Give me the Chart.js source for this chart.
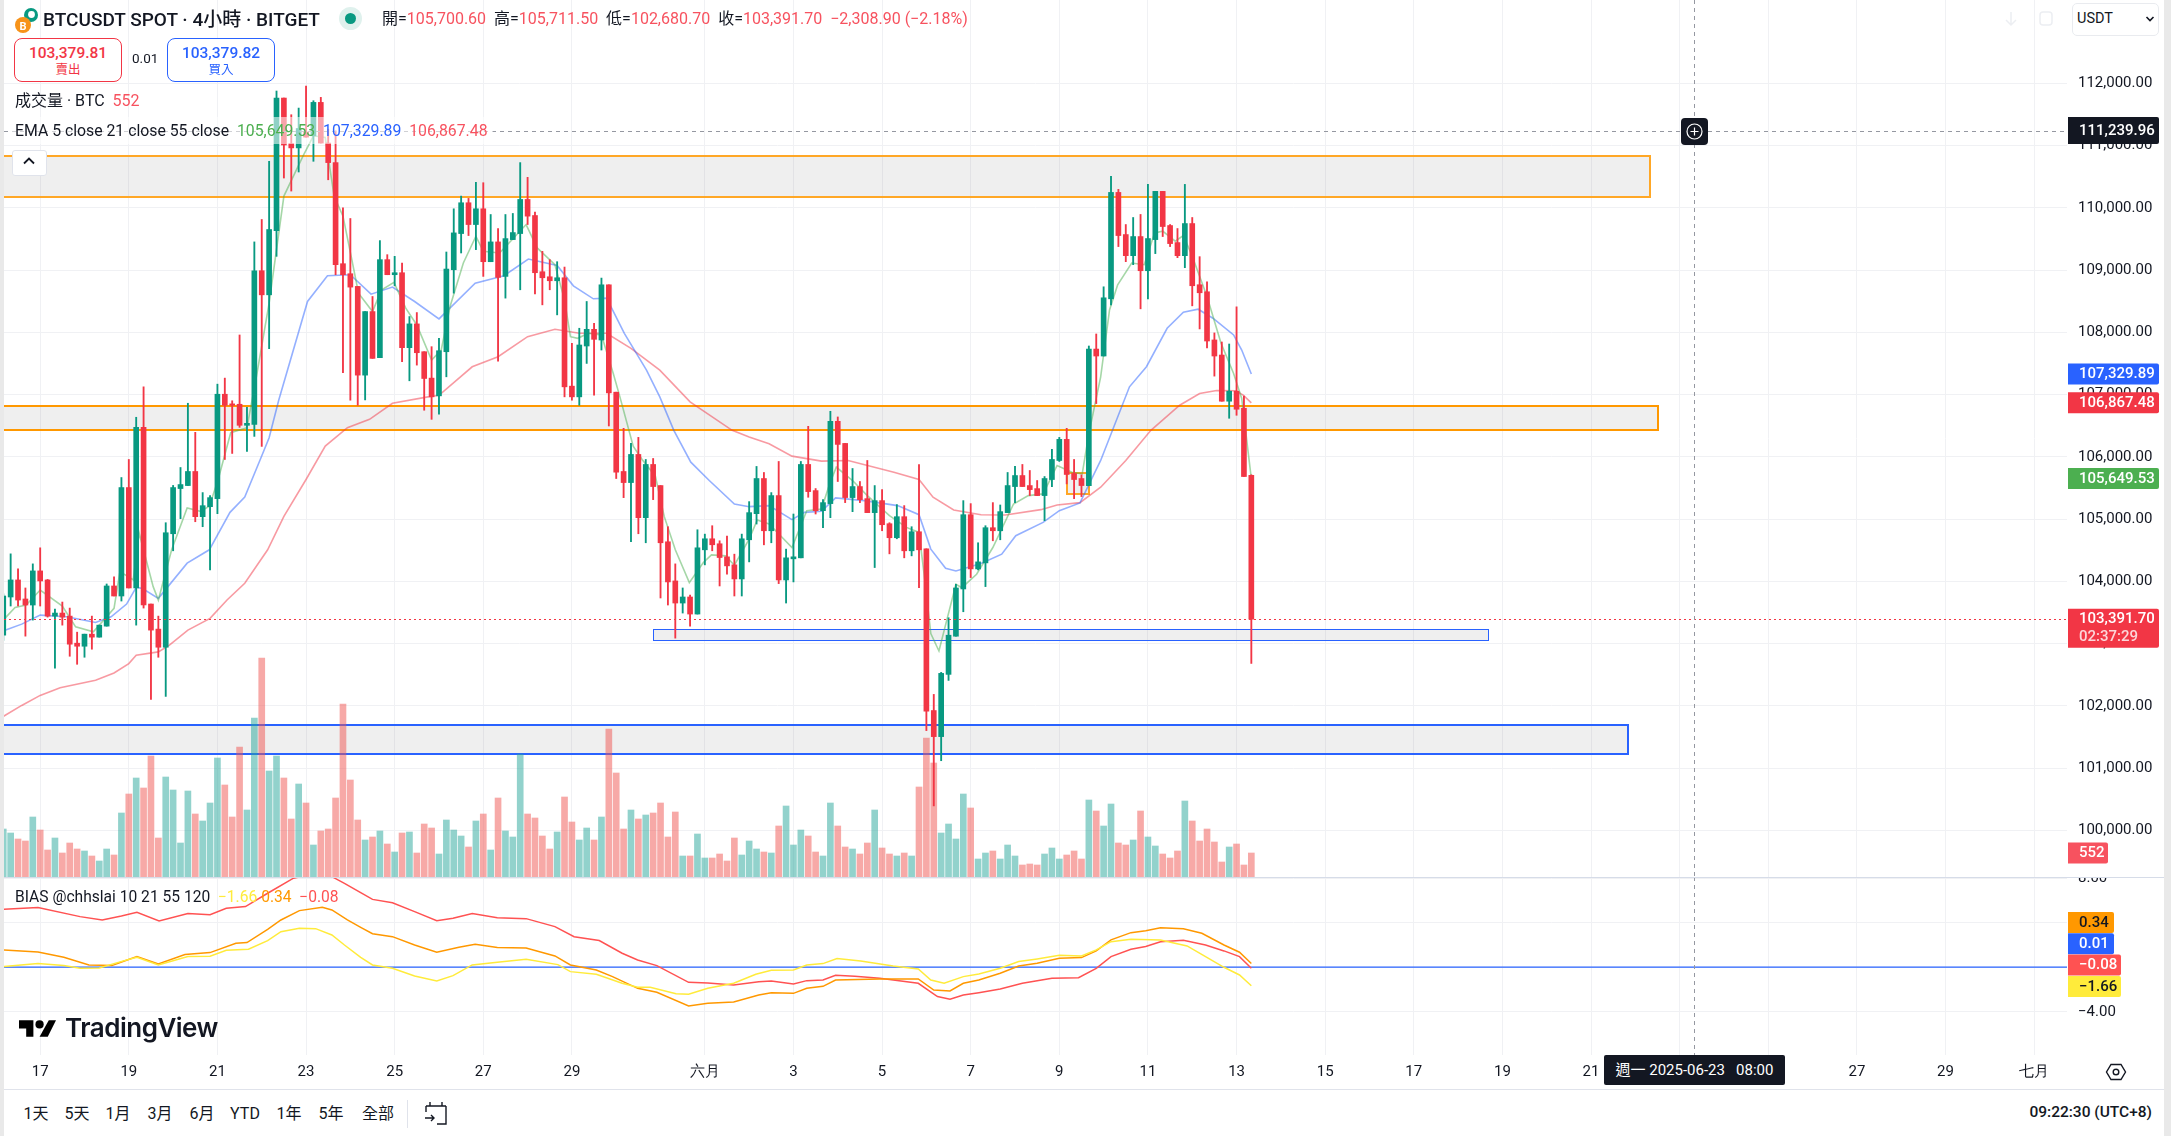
<!DOCTYPE html>
<html>
<head>
<meta charset="utf-8">
<script src="https://cdn.jsdelivr.net/npm/chart.js@4"></script>
<style>
html,body{margin:0;padding:0;background:#e9e9e9;}
body{width:2171px;height:1136px;position:relative;overflow:hidden;font-family:Roboto,"Noto Sans CJK TC",sans-serif;color:#131722;}
#page{position:absolute;left:4px;top:0;width:2160px;height:1136px;background:#fff;}
canvas{position:absolute;left:4px;}
.t{position:absolute;white-space:nowrap;line-height:1;}
.r{color:#f7525f;}
.box{position:absolute;top:38px;width:106px;height:42px;background:#fff;border-radius:8px;text-align:center;}
.box b{display:block;font-weight:500;font-size:15.5px;margin-top:5px;line-height:18px;}
.box span{display:block;font-size:12.5px;line-height:15px;}
.rg{position:absolute;top:1105px;font-size:16px;line-height:18px;transform:translateX(-50%);white-space:nowrap;}
</style>
</head>
<body>
<div id="page"></div>
<canvas id="priceChart" width="2160" height="877" style="top:0;width:2160px;height:877px"></canvas>
<canvas id="biasChart" width="2160" height="212" style="top:877px;width:2160px;height:212px"></canvas>

<!-- header -->
<svg class="t" style="left:14px;top:5px" width="28" height="30" viewBox="0 0 28 30">
  <circle cx="17" cy="10" r="7" fill="#089981"/><circle cx="17.5" cy="9.5" r="3.4" fill="#fff"/>
  <circle cx="9" cy="20" r="8" fill="#f7931a"/>
  <text x="9" y="24.5" font-size="11" font-weight="700" fill="#fff" text-anchor="middle" font-family="Roboto">B</text>
</svg>
<div class="t" style="left:43px;top:10px;font-size:19px;font-weight:500">BTCUSDT SPOT · 4小時 · BITGET</div>
<div class="t" style="left:339px;top:7px;width:23px;height:23px;border-radius:50%;background:#dff1ed"></div>
<div class="t" style="left:345px;top:13px;width:11px;height:11px;border-radius:50%;background:#089981"></div>
<div class="t" style="left:382px;top:11px;font-size:16px">開=<span class="r">105,700.60</span>&nbsp; 高=<span class="r">105,711.50</span>&nbsp; 低=<span class="r">102,680.70</span>&nbsp; 收=<span class="r">103,391.70</span>&nbsp; <span class="r">−2,308.90 (−2.18%)</span></div>

<div class="box" style="left:14px;border:1px solid #f23645;color:#f23645"><b>103,379.81</b><span>賣出</span></div>
<div class="t" style="left:132px;top:52px;font-size:13.5px">0.01</div>
<div class="box" style="left:167px;border:1px solid #2962ff;color:#2962ff"><b>103,379.82</b><span>買入</span></div>

<div class="t" style="left:15px;top:93px;font-size:16px">成交量 · BTC &nbsp;<span class="r">552</span></div>
<div class="t" style="left:10px;top:117px;height:27px;padding:0 5px;line-height:27px;font-size:15.8px;background:rgba(255,255,255,.55)">EMA 5 close 21 close 55 close &nbsp;<span style="color:#4caf50">105,649.53</span>&nbsp; <span style="color:#2962ff">107,329.89</span>&nbsp; <span style="color:#f7525f">106,867.48</span></div>
<div class="t" style="left:12px;top:150px;width:33px;height:24px;background:#fff;border:1px solid #e0e3eb;border-radius:3px"></div>
<svg class="t" style="left:22px;top:156px" width="14" height="10" viewBox="0 0 14 10"><path d="M2 7.5L7 2.5L12 7.5" fill="none" stroke="#131722" stroke-width="1.8"/></svg>

<!-- top right -->
<svg class="t" style="left:2003px;top:8px" width="60" height="22" viewBox="0 0 60 22" fill="none" stroke="#eceef2" stroke-width="1.5">
  <path d="M8 4v13M3 12l5 5 5-5"/><rect x="37" y="4" width="12" height="13" rx="3"/>
</svg>
<div class="t" style="left:2072px;top:3px;width:85px;height:31px;border:1px solid #e9ebef;border-radius:5px;background:#fff"></div>
<div class="t" style="left:2077px;top:12px;font-size:14.5px">USDT</div>
<svg class="t" style="left:2145px;top:15px" width="10" height="8" viewBox="0 0 10 8"><path d="M1.5 2L5 5.5L8.5 2" fill="none" stroke="#131722" stroke-width="1.6"/></svg>

<!-- crosshair marks -->
<div class="t" style="left:1681px;top:118px;width:27px;height:27px;border-radius:4px;background:#131722"></div>
<svg class="t" style="left:1686px;top:123px" width="17" height="17" viewBox="0 0 17 17" fill="none" stroke="#fff" stroke-width="1.2"><circle cx="8.5" cy="8.5" r="7.5"/><path d="M8.5 4.5v8M4.5 8.5h8"/></svg>
<div class="t" style="left:1604px;top:1055px;width:181px;height:30px;border-radius:2px;background:#131722;color:#fff;font-size:15px;line-height:30px;text-align:center">週一 2025-06-23 &nbsp; 08:00</div>

<!-- bias legend, logo -->
<div class="t" style="left:15px;top:890px;font-size:15.6px">BIAS @chhslai 10 21 55 120 &nbsp;<span style="color:#ffeb3b">−1.66</span>&nbsp;<span style="color:#ff9800">0.34</span> &nbsp;<span style="color:#ff5252">−0.08</span></div>
<svg class="t" style="left:19px;top:1019px" width="37" height="19" viewBox="0 6 36 16"><path d="M14 6H0v8h7v8h7V6Z"/><circle cx="20" cy="10" r="4"/><path d="M29 6h7l-8 16h-8l9-16Z"/></svg>
<div class="t" style="left:65px;top:1015px;font-size:26px;font-weight:600;font-family:Inter,Roboto,sans-serif;letter-spacing:-.5px">TradingView</div>

<!-- settings icon -->
<svg class="t" style="left:2105px;top:1063px" width="22" height="18" viewBox="0 0 22 18" fill="none" stroke="#131722" stroke-width="1.4"><path d="M6 1.5h10l4.5 7.5-4.5 7.5H6L1.5 9Z"/><circle cx="11" cy="9" r="2.8"/></svg>

<!-- range bar -->
<div class="t" style="left:4px;top:1089px;width:2160px;height:1px;background:#e0e3eb"></div>
<div class="rg" style="left:36px">1天</div><div class="rg" style="left:77px">5天</div><div class="rg" style="left:118px">1月</div>
<div class="rg" style="left:160px">3月</div><div class="rg" style="left:202px">6月</div><div class="rg" style="left:245px">YTD</div>
<div class="rg" style="left:289px">1年</div><div class="rg" style="left:331px">5年</div><div class="rg" style="left:378px">全部</div>
<div class="t" style="left:407px;top:1100px;width:1px;height:28px;background:#e0e3eb"></div>
<svg class="t" style="left:424px;top:1101px" width="24" height="25" viewBox="0 0 24 25" fill="none" stroke="#131722" stroke-width="1.4"><path d="M2 5h20M6 1v4M18 1v4M22 5v18h-9M2 5v6M1 17h9M7 14l3 3-3 3"/></svg>
<div class="t" style="right:19px;top:1105px;font-size:15.5px;font-weight:500">09:22:30 (UTC+8)</div>

<script>
// bars counted from 17 May 00:00, 4h each, first bar is -5
var firstBar = -5;
var opens = [103135,103748,104022,103716,103619,104167,104022,103441,103490,103441,103006,102957,103151,103103,103280,103925,103764,105506,103893,106473,103635,103232,102941,104764,105490,105538,105764,105038,105199,105328,107005,106850,106844,106506,106521,108989,108602,109634,111763,111032,110962,111218,111156,111693,111040,110726,109102,108941,108737,107312,108333,107592,109167,108925,108957,107753,108135,107688,107264,106979,107688,109005,109586,110081,109731,109984,109134,109452,108898,109489,109586,110134,109876,108973,108892,108828,108876,107135,106963,107780,108048,107876,108763,107038,105764,105586,106038,105022,105877,105538,104635,104006,103651,103748,103474,104506,104683,104603,104393,104264,104038,104667,105086,105651,104812,105377,104022,104361,104377,105877,105457,105135,105248,106570,106215,105345,105522,105328,105103,105296,104925,104700,105038,104490,104796,104522,101924,101505,102505,103118,103877,105070,104199,104296,104861,104812,105103,105522,105699,105538,105489,105377,105635,105941,106280,105732,105651,105538,107731,107619,108538,110247,109570,109231,109538,108989,109489,110264,109715,109441,109231,109747,108764,108651,107877,107635,106893,107054,106780,105700.6];
var highs = [103800,104441,104199,103893,104280,104538,104030,103554,103667,103570,103183,103151,103441,103296,103957,104070,105667,105957,106635,107124,103635,103441,104941,105540,105828,106860,106393,105425,105377,107167,107264,106900,107957,106796,109452,109812,110747,111876,111763,111495,111602,111956,111720,111774,111263,111236,110000,109828,108737,108333,108575,109473,109247,109220,109113,108253,108317,107688,107769,107903,109290,109984,110188,110151,110409,110403,109892,109667,109892,109909,110726,110489,109930,109301,109167,109134,109048,107823,108065,108495,108145,108871,108763,107038,106457,106215,106312,105957,105973,105538,104877,104280,103893,103780,104828,104758,104893,104651,104726,104436,104758,105280,105845,105748,105425,105925,104517,105081,105925,106490,105490,105312,106731,106640,106215,105812,105603,105941,105538,105473,104941,105232,105216,104877,105877,104522,102183,102537,103415,103952,105296,105248,104619,104893,105264,105226,105748,105845,105877,105780,105619,105683,106119,106312,106457,105957,105710,107780,107973,108731,110506,110296,109731,109844,109893,110376,110264,110264,109731,109667,110376,109844,109215,108812,107990,107844,107812,108409,106974,105711.5];
var lows = [103050,103603,103603,103119,103377,103603,103425,102603,103296,102796,102667,102780,102909,103103,103280,103764,103683,103893,103296,103570,102103,102780,102151,104490,105006,105538,104957,104877,104183,105086,105957,106054,106473,106086,106328,106167,107737,109220,110478,110269,110575,111135,110747,111040,110450,108925,107350,106909,106828,106914,107581,107592,108925,108747,107527,107221,107473,106748,106602,106683,107285,108629,109274,109554,109328,108898,109134,107538,108549,109489,108683,109731,108618,108441,108683,108280,106963,106909,106828,107500,106989,107715,106495,105651,105344,104635,104764,104619,105312,103732,103619,103087,103490,103280,103474,104264,104490,103925,104113,103764,103764,104312,104920,104586,104619,103963,103651,103990,104377,105350,105081,104861,105022,105603,105264,105119,105264,105103,104221,104812,104441,104683,104377,104409,103898,101602,100392,101118,102408,103118,103511,104060,104183,103915,104651,104667,105103,105264,105522,105377,105377,104974,105522,105925,105565,105328,105361,105538,106855,107619,108441,109377,109135,109086,108377,108538,109264,109538,109377,109199,109038,108425,108054,107748,107296,106893,106619,106667,105683,102680.7];
var closes = [103764,104022,103699,103619,104167,104006,103441,103490,103425,102990,102957,103151,103103,103296,103925,103764,105506,103893,106473,103619,103216,102941,104780,105506,105554,105764,105038,105215,105344,107005,106828,106828,106506,106538,108989,108602,109651,111763,111009,110962,111274,111135,111693,111040,110726,109086,108925,108726,107312,108333,107581,109167,108925,108957,107753,108135,107672,107258,106963,107704,109016,109597,110081,109731,109984,109134,109452,108882,109505,109602,110134,109866,108957,108876,108828,108876,107124,106963,107796,108048,107887,108763,107027,105753,105586,106038,105022,105877,105522,104619,103990,103651,103748,103474,104538,104683,104587,104382,104248,104038,104683,105103,105651,104812,105377,104022,104377,104393,105877,105441,105135,105264,106570,106199,105345,105522,105312,105103,105296,104909,104700,105038,104490,104796,104506,101914,101505,102521,103134,103893,105070,104199,104312,104861,104812,105119,105538,105699,105522,105473,105377,105651,105957,106280,105716,105635,105538,107731,107619,108554,110247,109554,109231,109538,108989,109506,110264,109699,109425,109231,109747,108748,108635,107860,107619,106893,107054,106764,105683,103391.7];
var volumes = [1104,1012,874,828,1380,1081,621,897,552,782,644,598,483,368,644,506,1472,1909,2277,2047,2783,897,2300,2001,782,1978,1449,1288,1702,2737,2116,1380,2990,1541,3657,5037,2438,2783,2277,1334,2139,1702,736,1058,1104,1817,3979,2231,1311,851,920,1058,759,575,1012,1035,552,1219,1127,529,1311,1081,943,690,1288,1449,621,1817,1058,920,2829,1449,1357,943,644,1035,1840,1265,851,1127,851,1380,3404,2392,1104,1541,1334,1426,1472,1702,920,1495,483,483,989,437,437,529,368,897,506,828,644,575,552,1173,1633,736,1081,943,575,483,1702,1173,690,644,529,782,1541,667,529,483,552,483,2070,3197,2622,1012,1219,874,1909,1587,414,552,598,414,736,483,276,299,276,529,667,414,506,598,414,1771,1518,1173,1679,782,736,851,1518,920,713,529,437,598,1748,1288,828,1104,805,345,690,759,276,552];

var emaFastBars = [-5,-3.4,-1.9,0,3,4.8,7.2,10,10.8,12.6,13.4,15.3,16,17.8,19.9,21.7,22.9,24.1,25.8,28,29.3,31,33,35.6,37,38.6,39.8,41,42.2,43.1,45,46.2,47.9,49.5,51,53,54.3,55.5,57.3,59,60,62.2,63.7,65.8,67.3,69.7,71,71.8,72.8,74.2,76,77.6,78.5,80.3,81.5,83.3,84.5,86,87.9,89.8,90.9,92.8,94,96,97.1,98.7,101.8,103.8,105.8,106.9,107.8,110,112,115,117.3,119,119.8,120.6,121.7,124,124.8,126.8,129,131.8,133.8,135.8,137.7,139.7,141.1,142,143.6,144.8,145.9,147.8,149.5,150.9,152,153.7,154.8,156,158,159.9,161.6,162.7,164];
var emaFastVals = [103377,103581,103619,103860,103603,103269,103189,103565,104156,104022,104775,103914,103699,104506,105178,105124,105205,105635,106387,106468,107300,108468,110188,110833,111156,111129,110188,109866,109167,108629,108333,108677,108801,108387,108118,107554,107715,108414,109113,109543,109301,109274,109462,109731,109355,109086,108522,107930,107903,107984,107957,107339,106963,106172,105957,105688,105043,104506,103979,104302,104425,104409,104259,104678,104985,104920,104543,105135,105162,105565,105834,105619,105377,105054,104866,104785,104006,103161,102881,103952,103898,104113,104543,105242,105377,105404,105860,105753,105726,106371,107285,108360,108764,109113,109086,109597,109624,109463,109554,109221,108576,107823,107339,106936,105649.53];
var emaMidBars = [-5,-2.5,0,3.6,7.5,9.6,11.7,13,13.8,16,19.9,22.9,25.7,27.7,29.8,31,32.3,36.2,38.9,42,44.8,47.7,50.7,54,58.9,62.8,66.1,70,72.2,74.9,76.7,79.1,82.1,83.9,85.8,88.1,90.6,94,96,98.7,101.8,103.5,105.8,107.7,111.6,116.1,119,120.6,122.6,124,127.4,130.2,132.1,135.8,138,140.8,143.6,147.5,149.8,152.6,154.8,156.8,158.8,161.6,162.7,164];
var emaMidVals = [103205,103312,103457,103430,103339,103430,103635,103904,103887,103726,104291,104506,105108,105355,105957,106307,106909,108495,108909,108925,108613,108726,108495,108215,108790,108909,109177,109075,108747,108538,108549,107984,107393,106963,106425,105914,105619,105242,105199,105216,104990,105108,105124,105339,105296,105216,105070,104517,104210,104167,104285,104436,104732,104947,105135,105259,105941,107124,107447,108065,108323,108371,108226,107957,107715,107329.89];
var emaSlowBars = [-5,-2.5,0,2.7,7.5,10,12,13,16,17.5,20,23,25.3,27.7,30.8,33,36,38.6,41.6,44.6,47.7,52.5,54,58.5,62,66,69.7,73,76.7,80,83.9,88,93.7,96,98.7,101.8,105.8,109.4,115.6,119,120.9,123.7,127.4,130.7,135.5,137.7,140.8,143.6,147,150.4,154.3,157,159.3,161.9,162.9,164];
var emaSlowVals = [101829,102006,102167,102290,102409,102527,102678,102812,102866,102974,103216,103404,103699,103968,104506,105043,105635,106172,106468,106602,106860,106963,106989,107446,107608,107930,108048,107984,107984,107742,107393,106882,106425,106318,106210,106011,105930,105941,105753,105635,105350,105146,105070,105065,105151,105226,105264,105511,105941,106425,106828,107016,107065,107060,106990,106867.48];

var biasYellowBars = [-5,-0.3,3.2,5.4,8,11.4,13.1,16,20,23,25.2,28.2,30.8,32.6,35.1,37.3,39.5,41.2,43.4,45,47.7,50.7,53.7,55.9,58.5,61.9,65.8,70.1,71.8,75.3,78.8,80.9,82.6,86.1,87.8,90.4,93.9,96.9,99,102,103.8,106,107.9,111.1,115.5,118.9,120.6,122.4,125,127.1,130,132.5,135,138,141,143,145,147.7,151.7,155.3,157.8,160.3,162.4,164];
var biasYellowVals = [0.06,0.33,0.15,-0.09,-0.06,0.6,0.9,0.21,0.96,0.99,1.53,1.62,2.4,3.2,3.5,3.47,2.9,2,0.9,0.21,-0.09,-0.78,-1.23,-0.75,0.21,0.45,0.72,0.24,-0.39,-0.63,-1.44,-1.8,-1.8,-2.37,-2.43,-1.89,-1.44,-0.63,-0.27,-0.24,0.21,0.33,0.78,0.57,0.12,-0.15,-1.14,-1.44,-0.84,-0.6,-0.09,0.51,0.75,1.08,1.02,1.56,2.3,2.51,2.46,1.92,0.96,0,-0.69,-1.66];
var biasOrangeBars = [-5,-0.3,3.2,6.6,9.7,11.4,13.1,16,19.6,23,26.5,28,30.8,32.6,35.1,38.2,39.5,41.6,43.4,45,47.7,50.7,53.7,56.7,58.9,61.9,65.8,69.7,71.8,75.3,77.5,80.9,83.5,87.8,90.4,93.9,97.3,99,102,103.8,106,107.7,113.7,118.9,121,123.2,125,127.1,130,132.5,135,138,141,143,145,147.7,149.7,151.7,154.8,157.3,160.3,162.4,164];
var biasOrangeVals = [1.56,1.38,0.9,0.21,0.15,0.57,0.96,0.3,1.14,1.32,2.16,2.22,3.41,4.25,5.09,5.39,5.15,4.25,3.59,3.02,2.75,2,1.35,1.8,2.07,1.77,1.74,1.02,0.21,-0.24,-0.84,-1.89,-2.25,-3.47,-3.23,-3.11,-2.49,-2.28,-2.34,-1.89,-1.71,-1.14,-1.05,-1.05,-2.04,-2.13,-1.44,-1.14,-0.54,0.12,0.36,0.81,0.87,1.47,2.46,3.11,3.29,3.56,3.47,3.05,2,1.35,0.34];
var biasRedBars = [-5,-0.3,5.4,8.4,11,13.1,16.1,20,23,25.2,27.8,30.8,34.3,37.7,39.5,41.2,43.4,45,47.7,50.7,53.7,55.9,58.5,61.9,65.8,69.7,72.3,75.7,78.8,80.9,83.5,87.8,90.4,93.9,97.3,99,102,103.8,106,107.7,110.3,113.7,118.9,121.5,123.2,125,127.1,130,133,137,140.6,143,145,147.7,149.7,151.7,154.8,157.8,160.3,162.4,164];
var biasRedVals = [5.21,5.36,4.55,4.25,4.61,4.94,4.16,4.82,4.73,5.3,5.45,6.65,8,8.5,8.14,7.54,6.7,6.1,5.8,5,4.19,4.4,4.82,4.46,4.37,3.65,2.75,2.4,1.26,0.66,0.15,-1.35,-1.41,-1.59,-1.29,-1.23,-1.5,-1.2,-1.14,-0.72,-0.81,-0.99,-1.44,-2.63,-2.87,-2.49,-2.28,-1.95,-1.44,-0.99,-0.93,-0.1,0.96,1.62,1.86,2.3,2.43,2,1.47,0.96,-0.08];
var biasBlueBars = [-6,280];
var biasBlueVals = [0.01,0.01];

var tickBars = [0,12,24,36,48,60,72,90,102,114,126,138,150,162,174,186,198,210,222,234,246,258,270];
var tickLabels = ["17","19","21","23","25","27","29","六月","3","5","7","9","11","13","15","17","19","21","23","25","27","29","七月"];
var priceTicks = [112000,111000,110000,109000,108000,107000,106000,105000,104000,103000,102000,101000,100000];
var biasTicks = [8,4,0,-4];

// drawn zones, in price and bar units
var zoneFrom = [-8,-8,83,-8,139];
var zoneTo = [218,219,196,215,142];
var zoneHigh = [110832,106817,103233,101695,105746];
var zoneLow = [110174,106432,103056,101229,105404];
var zoneColor = ["#ffa726","#ff9800","#2962ff","#2962ff","#ffa726"];
var zoneLine = [2,2,1,2,2];

var lastPrice = 103391.7;
var crossPrice = 111239.96;
var crossBar = 224;

var green = "#089981", red = "#f23645";
var upDown = closes.map(function (c, k) { return c >= opens[k]; });
var candleColors = upDown.map(function (u) { return u ? green : red; });
var volColors = upDown.map(function (u) { return u ? "rgba(38,166,154,0.5)" : "rgba(239,83,80,0.5)"; });

function pairs(bars, vals) {
  return bars.map(function (b, k) { return {x: b, y: vals[k]}; });
}
function barSeries(fn) {
  return opens.map(function (o, k) { return {x: firstBar + k, y: fn(k)}; });
}
function fmt(v) {
  return v.toLocaleString("en-US", {minimumFractionDigits: 2, maximumFractionDigits: 2});
}
function badge(ctx, left, right, top, h, color, text, textColor, font) {
  ctx.fillStyle = color;
  ctx.beginPath();
  ctx.roundRect(left, top, right - left, h, [0, 2, 2, 0]);
  ctx.fill();
  ctx.fillStyle = textColor;
  ctx.font = font || "500 15px Roboto";
  ctx.textAlign = "left";
  ctx.textBaseline = "middle";
  ctx.fillText(text, left + 11, top + h / 2 + 0.5);
}

var gridColor = "#f0f1f4";
var tickFont = {family: "Roboto", size: 15};

function xAxis(showLabels, height) {
  return {
    type: "linear", min: -4.9, max: 274.45, offset: false,
    grid: {color: gridColor, drawTicks: false, offset: false},
    border: {display: false},
    afterBuildTicks: function (s) { s.ticks = tickBars.map(function (v) { return {value: v}; }); },
    afterFit: function (s) { s.height = height; s.paddingLeft = 0; s.paddingRight = 0; s.paddingTop = 0; s.paddingBottom = 0; },
    ticks: {
      display: showLabels, autoSkip: false, maxRotation: 0, padding: 8, color: "#131722", font: tickFont,
      callback: function (v) { return tickLabels[tickBars.indexOf(v)]; }
    }
  };
}
function yAxis(min, max, list, label) {
  return {
    position: "right", min: min, max: max,
    grid: {color: gridColor, drawTicks: false},
    border: {display: false},
    afterBuildTicks: function (s) { s.ticks = list.map(function (v) { return {value: v}; }); },
    afterFit: function (s) { s.width = 97; s.paddingTop = 0; s.paddingBottom = 0; s.paddingLeft = 0; s.paddingRight = 0; },
    ticks: {padding: 11, color: "#131722", font: tickFont, callback: label}
  };
}

var zonesPlugin = {
  id: "zones",
  beforeDatasetsDraw: function (chart) {
    var ctx = chart.ctx, a = chart.chartArea, x = chart.scales.x, y = chart.scales.y;
    ctx.save();
    ctx.beginPath(); ctx.rect(a.left, a.top, a.right - a.left, a.bottom - a.top); ctx.clip();
    zoneFrom.forEach(function (f, k) {
      var l = Math.round(x.getPixelForValue(f)), r = Math.round(x.getPixelForValue(zoneTo[k]));
      var t = Math.round(y.getPixelForValue(zoneHigh[k])), b = Math.round(y.getPixelForValue(zoneLow[k]));
      ctx.fillStyle = "rgba(128,128,128,0.125)";
      ctx.fillRect(l, t, r - l, b - t);
      ctx.strokeStyle = zoneColor[k];
      ctx.lineWidth = zoneLine[k];
      var o = zoneLine[k] === 1 ? 0.5 : 0;
      ctx.strokeRect(l + o, t + o, r - l, b - t);
    });
    ctx.restore();
  }
};

var priceMarks = {
  id: "priceMarks",
  afterDatasetsDraw: function (chart) {
    var ctx = chart.ctx, a = chart.chartArea, x = chart.scales.x, y = chart.scales.y;
    var py = Math.round(y.getPixelForValue(lastPrice)) + 0.5;
    var cy = Math.round(y.getPixelForValue(crossPrice)) + 0.5;
    var cx = Math.round(x.getPixelForValue(crossBar)) + 0.5;
    ctx.save();
    ctx.lineWidth = 1;
    ctx.strokeStyle = red; ctx.setLineDash([2, 3]);
    ctx.beginPath(); ctx.moveTo(a.left, py); ctx.lineTo(a.right, py); ctx.stroke();
    ctx.strokeStyle = "#9598a1"; ctx.setLineDash([4, 4]);
    ctx.beginPath(); ctx.moveTo(a.left, cy); ctx.lineTo(a.right, cy); ctx.stroke();
    ctx.beginPath(); ctx.moveTo(cx, a.top); ctx.lineTo(cx, a.bottom); ctx.stroke();
    ctx.restore();
  },
  afterDraw: function (chart) {
    var ctx = chart.ctx, a = chart.chartArea, y = chart.scales.y;
    var left = a.right + 1, right = left + 91;
    ctx.save();
    badge(ctx, left, right, y.getPixelForValue(crossPrice) - 13.5, 27, "#131722", fmt(crossPrice), "#fff");
    badge(ctx, left, right, y.getPixelForValue(emaMidVals[emaMidVals.length - 1]) - 10.5, 21, "#2962ff", fmt(emaMidVals[emaMidVals.length - 1]), "#fff");
    badge(ctx, left, right, y.getPixelForValue(emaSlowVals[emaSlowVals.length - 1]) - 10.5, 21, red, fmt(emaSlowVals[emaSlowVals.length - 1]), "#fff");
    badge(ctx, left, right, y.getPixelForValue(emaFastVals[emaFastVals.length - 1]) - 10.5, 21, "#4caf50", fmt(emaFastVals[emaFastVals.length - 1]), "#fff");
    var ly = y.getPixelForValue(lastPrice);
    badge(ctx, left, right, ly - 10.5, 39, red, "", "#fff");
    ctx.font = "500 15px Roboto";
    ctx.fillStyle = "#fff"; ctx.fillText(fmt(lastPrice), left + 11, ly);
    ctx.fillStyle = "#fcd5d8"; ctx.fillText("02:37:29", left + 11, ly + 18);
    var vy = chart.scales.yVol.getPixelForValue(volumes[volumes.length - 1]);
    badge(ctx, left, left + 40, vy - 10.5, 21, "#f7525f", String(volumes[volumes.length - 1]), "#fff");
    ctx.restore();
  }
};

var biasMarks = {
  id: "biasMarks",
  afterDatasetsDraw: function (chart) {
    var ctx = chart.ctx, a = chart.chartArea;
    var cx = Math.round(chart.scales.x.getPixelForValue(crossBar)) + 0.5;
    ctx.save();
    ctx.strokeStyle = "#9598a1"; ctx.lineWidth = 1; ctx.setLineDash([4, 4]);
    ctx.beginPath(); ctx.moveTo(cx, a.top); ctx.lineTo(cx, a.bottom); ctx.stroke();
    ctx.restore();
  },
  afterDraw: function (chart) {
    var ctx = chart.ctx, left = chart.chartArea.right + 1;
    // TradingView stacks these so they do not overlap
    var last = function (arr) { return arr[arr.length - 1]; };
    var txt = function (v) { return v.toFixed(2).replace("-", "−"); };
    ctx.save();
    badge(ctx, left, left + 46, 35, 21, "#ff9800", txt(last(biasOrangeVals)), "#131722");
    badge(ctx, left, left + 46, 56.3, 21, "#2962ff", txt(last(biasBlueVals)), "#fff");
    badge(ctx, left, left + 53, 77.6, 21, "#ff5252", txt(last(biasRedVals)), "#fff");
    badge(ctx, left, left + 53, 99, 21, "#ffeb3b", txt(last(biasYellowVals)), "#131722");
    // pane divider
    ctx.fillStyle = "#d6dce8"; ctx.fillRect(0, 0, chart.width, 1);
    ctx.restore();
  }
};

new Chart("priceChart", {
  type: "bar",
  data: {
    datasets: [
      {data: barSeries(function (k) { return [opens[k], closes[k]]; }), backgroundColor: candleColors, barThickness: 5, order: 1},
      {data: barSeries(function (k) { return [lows[k], highs[k]]; }), backgroundColor: candleColors, barThickness: 1.2, order: 2},
      {type: "line", data: pairs(emaFastBars, emaFastVals), borderColor: "rgba(76,175,80,0.5)", borderWidth: 1.6, pointRadius: 0, order: 3},
      {type: "line", data: pairs(emaMidBars, emaMidVals), borderColor: "rgba(41,98,255,0.5)", borderWidth: 1.6, pointRadius: 0, order: 4},
      {type: "line", data: pairs(emaSlowBars, emaSlowVals), borderColor: "rgba(242,54,69,0.5)", borderWidth: 1.6, pointRadius: 0, order: 5},
      {data: barSeries(function (k) { return volumes[k]; }), backgroundColor: volColors, barThickness: 6, yAxisID: "yVol", order: 6}
    ]
  },
  options: {
    responsive: false, animation: false, devicePixelRatio: 1,
    datasets: {bar: {grouped: false}},
    layout: {padding: 0, autoPadding: false},
    plugins: {legend: {display: false}, title: {display: false}, tooltip: {enabled: false}},
    scales: {
      x: xAxis(false, 0),
      y: yAxis(99250, 113338, priceTicks, function (v) { return fmt(v); }),
      yVol: {display: false, min: 0, max: 20171}
    }
  },
  plugins: [zonesPlugin, priceMarks]
});

new Chart("biasChart", {
  type: "line",
  data: {
    datasets: [
      {data: pairs(biasYellowBars, biasYellowVals), borderColor: "#ffeb3b", borderWidth: 1.5, pointRadius: 0},
      {data: pairs(biasOrangeBars, biasOrangeVals), borderColor: "#ff9800", borderWidth: 1.5, pointRadius: 0},
      {data: pairs(biasRedBars, biasRedVals), borderColor: "#ff5252", borderWidth: 1.5, pointRadius: 0},
      {data: pairs(biasBlueBars, biasBlueVals), borderColor: "#2962ff", borderWidth: 1.2, pointRadius: 0}
    ]
  },
  options: {
    responsive: false, animation: false, devicePixelRatio: 1,
    layout: {padding: 0, autoPadding: false},
    plugins: {legend: {display: false}, title: {display: false}, tooltip: {enabled: false}},
    scales: {
      x: xAxis(true, 34),
      y: yAxis(-7.88, 8.11, biasTicks, function (v) { return v.toFixed(2).replace("-", "−"); })
    }
  },
  plugins: [biasMarks]
});
</script>
</body>
</html>
